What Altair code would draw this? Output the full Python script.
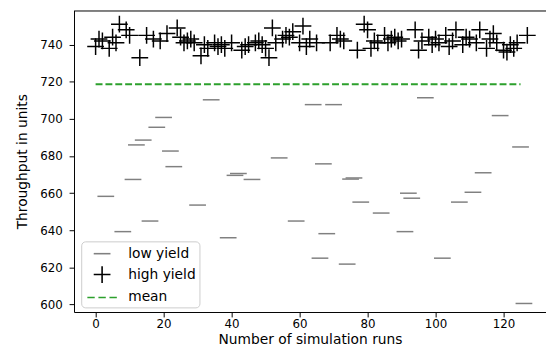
import altair as alt
import pandas as pd

# ---- data ----
low_runs = [3, 8, 11, 12, 14, 16, 18, 20, 22, 23, 30, 34, 39, 41, 42, 46, 54, 59,
            64, 66, 67, 68, 70, 74, 75, 76, 78, 84, 91, 92, 93, 97, 102, 107, 111,
            114, 119, 125, 126]
low_vals = [658.3, 639.3, 667.4, 686.0, 688.6, 645.0, 695.5, 700.8, 682.7, 674.3,
            653.6, 710.3, 636.0, 669.6, 670.6, 667.4, 679.0, 645.0, 707.7, 625.0,
            675.8, 638.2, 707.7, 621.8, 667.6, 668.2, 655.2, 649.3, 639.3, 660.0,
            657.3, 711.4, 625.0, 655.2, 660.5, 671.0, 701.8, 684.9, 600.6]

high_runs = [0, 1, 2, 4, 5, 6, 7, 9, 10, 13, 15, 17, 19, 21, 24, 25, 26, 27, 28, 29,
             31, 32, 33, 35, 36, 37, 38, 40, 43, 44, 45, 47, 48, 49, 50, 51, 52, 53,
             55, 56, 57, 58, 60, 61, 62, 63, 65, 69, 71, 72, 73, 77, 79, 80, 81, 82,
             83, 85, 86, 87, 88, 89, 90, 94, 95, 96, 98, 99, 100, 101, 103, 104, 105,
             106, 108, 109, 110, 112, 113, 115, 116, 117, 118, 120, 121, 122, 123,
             124, 127]
high_vals = [739, 743, 742, 738, 744, 741, 751, 748, 745, 733, 745, 743, 742, 746,
             749, 744, 741, 742, 743, 741, 734, 740, 738, 741, 739, 740, 738, 741,
             737, 739, 740, 741, 742, 740, 738, 733, 749, 741, 743, 745, 744, 747,
             741, 750, 739, 743, 741, 741, 745, 743, 742, 737, 751, 748, 738, 742,
             741, 745, 741, 743, 744, 742, 743, 748, 737, 742, 744, 740, 743, 741,
             745, 739, 742, 748, 740, 744, 743, 741, 748, 738, 743, 746, 741, 737,
             736, 740, 738, 741, 745]

series_names = ["low yield", "high yield", "mean"]
series_colors = ["#808080", "#000000", "#2ca02c"]
x_ticks = [0, 20, 40, 60, 80, 100, 120]
y_ticks = [600, 620, 640, 660, 680, 700, 720, 740]
mean_span = [0, 125]

all_vals = low_vals + high_vals
mean_value = sum(all_vals) / len(all_vals)

runs_df = pd.DataFrame({
    "run": low_runs + high_runs,
    "throughput": low_vals + high_vals,
    "series": ["low yield"] * len(low_runs) + ["high yield"] * len(high_runs),
})
mean_df = pd.DataFrame({"run": [mean_span[0]], "run_end": [mean_span[1]],
                        "throughput": [mean_value]})

DASH = "M-1,0L1,0"
CROSS = "M-1,0L1,0M0,-1L0,1"
MEAN_PATH = "M-1.76,0L-0.88,0M-0.44,0L0.44,0M0.88,0L1.76,0"

W, H = 479, 306
x_scale = alt.Scale(domain=[-6.35, -6.35 + W / 3.45], nice=False, zero=False)
y_scale = alt.Scale(domain=[596.0, 758.4], nice=False, zero=False)

legend = alt.Legend(title=None)

points = alt.Chart(runs_df).mark_point(filled=False, size=289, strokeWidth=1.5,
                                       opacity=1).encode(
    x=alt.X("run:Q", scale=x_scale,
            axis=alt.Axis(values=x_ticks, title="Number of simulation runs",
                          labelFlush=False, labelOverlap=False)),
    y=alt.Y("throughput:Q", scale=y_scale,
            axis=alt.Axis(values=y_ticks, title="Throughput in units",
                          labelOverlap=False)),
    color=alt.Color("series:N",
                    scale=alt.Scale(domain=series_names, range=series_colors),
                    legend=legend),
    shape=alt.Shape("series:N",
                    scale=alt.Scale(domain=series_names,
                                    range=[DASH, CROSS, MEAN_PATH]),
                    legend=legend),
)

mean_rule = alt.Chart(mean_df).mark_rule(color="#2ca02c", strokeWidth=2,
                                         strokeDash=[7, 3]).encode(
    x=alt.X("run:Q", scale=x_scale),
    x2="run_end:Q",
    y=alt.Y("throughput:Q", scale=y_scale),
)

top_border = alt.Chart(mean_df).mark_rule(color="black", strokeWidth=1).encode(
    x=alt.value(0), x2=alt.value(W), y=alt.value(0.5)
)

chart = alt.layer(points, mean_rule, top_border).properties(
    width=W, height=H,
    autosize=alt.AutoSizeParams(type="none"),
    padding={"left": 67, "top": 0, "right": 0, "bottom": 35},
).configure_view(stroke=None).configure_axis(
    grid=False,
    domainColor="black", domainWidth=1,
    tickColor="black", tickWidth=1, tickSize=5,
    labelFont="DejaVu Sans", labelFontSize=12, labelColor="black",
    titleFont="DejaVu Sans", titleFontSize=14, titleFontWeight="normal",
    titleColor="black",
).configure_axisY(labelPadding=7, titlePadding=10).configure_axisX(
    labelPadding=2, titlePadding=3
).configure_legend(
    orient="none", legendX=7.3, legendY=234.3,
    padding=3, rowPadding=1.2,
    strokeColor="#cccccc", fillColor="rgba(255,255,255,0.8)", cornerRadius=4,
    labelFont="DejaVu Sans", labelFontSize=14, labelColor="black",
    symbolSize=289, symbolStrokeWidth=1.6, symbolOffset=8.7, labelOffset=17,
)

chart.save("out.html", embed_options={"renderer": "svg", "actions": False})
